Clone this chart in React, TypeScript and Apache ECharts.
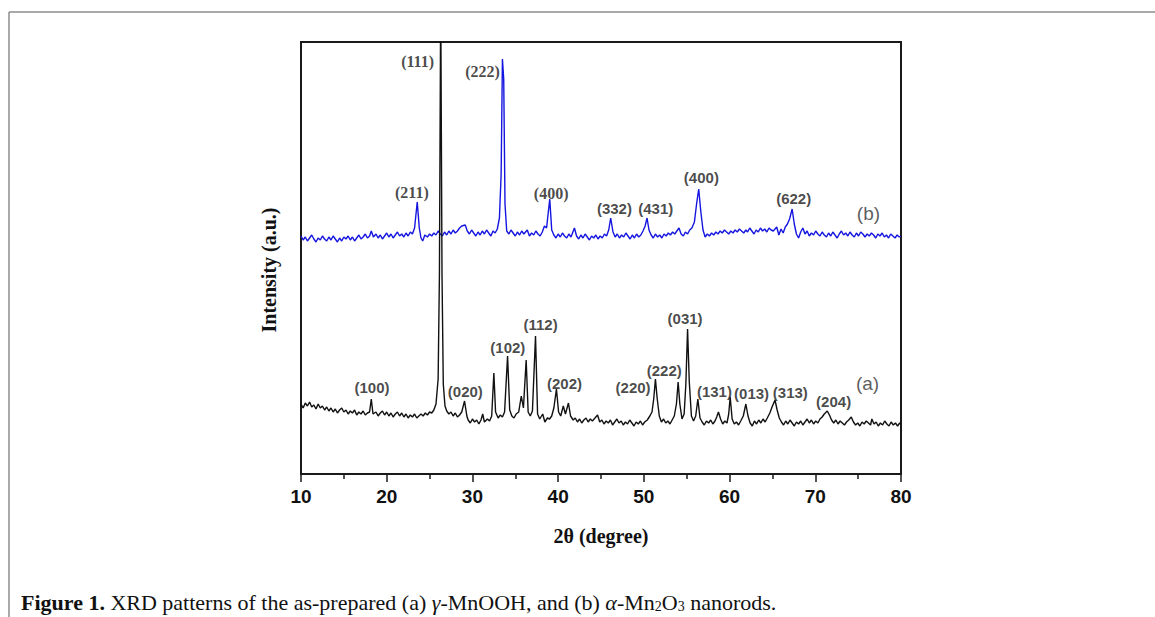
import React, { useEffect, useRef } from "react";
import * as echarts from "echarts";

// 2θ axis
const xMin = 10;
const xMax = 80;
const xStep = 10;
// intensity axis (arbitrary units)
const yMin = 0;
const yMax = 432;

// (a) γ-MnOOH  [2θ, intensity]
const patternA: [number, number][] = [
  [10.0, 70], [10.25, 66], [10.5, 71], [10.75, 68], [11.0, 72], [11.25, 67], [11.5, 69], [11.75, 65],
  [12.0, 70], [12.25, 66], [12.5, 68], [12.75, 64], [13.0, 67], [13.25, 63], [13.5, 66], [13.75, 62],
  [14.0, 65], [14.25, 61], [14.5, 64], [14.75, 66], [15.0, 62], [15.25, 64], [15.5, 60], [15.75, 63],
  [16.0, 61], [16.25, 64], [16.5, 59], [16.75, 62], [17.0, 60], [17.25, 63], [17.5, 59], [17.75, 61],
  [18.0, 62], [18.2, 75], [18.4, 60], [18.75, 62], [19.0, 58], [19.25, 61], [19.5, 63], [19.75, 59],
  [20.0, 62], [20.25, 58], [20.5, 61], [20.75, 57], [21.0, 60], [21.25, 62], [21.5, 58], [21.75, 61],
  [22.0, 57], [22.25, 60], [22.5, 56], [22.75, 59], [23.0, 57], [23.25, 60], [23.5, 56], [23.75, 58],
  [24.0, 60], [24.25, 58], [24.5, 61], [24.75, 59], [25.0, 62], [25.25, 61], [25.5, 64], [25.75, 70],
  [26.0, 95], [26.15, 200], [26.3, 480], [26.45, 200], [26.6, 90], [26.8, 68], [27.0, 63], [27.25, 60],
  [27.5, 62], [27.75, 58], [28.0, 61], [28.25, 57], [28.5, 59], [28.75, 62], [29.08, 73], [29.35, 58],
  [29.5, 54], [29.75, 51], [30.0, 55], [30.25, 52], [30.5, 54], [30.75, 50], [31.0, 54], [31.2, 60],
  [31.4, 52], [31.75, 55], [32.0, 53], [32.25, 58], [32.5, 101], [32.7, 62], [33.0, 56], [33.25, 59],
  [33.5, 57], [33.75, 62], [34.1, 118], [34.35, 64], [34.6, 58], [34.85, 56], [35.1, 60], [35.4, 62],
  [35.7, 78], [35.95, 66], [36.27, 114], [36.5, 62], [36.75, 58], [37.0, 63], [37.36, 138], [37.6, 60],
  [37.85, 55], [38.2, 60], [38.45, 52], [38.75, 56], [39.0, 55], [39.25, 58], [39.5, 66], [39.8, 85],
  [40.05, 62], [40.3, 58], [40.6, 68], [40.85, 60], [41.2, 71], [41.45, 58], [41.75, 54], [42.0, 56],
  [42.25, 52], [42.5, 55], [42.75, 51], [43.0, 54], [43.25, 56], [43.5, 52], [43.75, 55], [44.0, 53],
  [44.3, 56], [44.6, 59], [44.85, 52], [45.1, 54], [45.35, 50], [45.6, 53], [45.85, 51], [46.1, 54],
  [46.35, 49], [46.6, 52], [46.85, 55], [47.1, 51], [47.35, 53], [47.6, 49], [47.85, 52], [48.1, 50],
  [48.35, 54], [48.6, 51], [48.85, 48], [49.1, 52], [49.35, 50], [49.6, 53], [49.85, 49], [50.1, 52],
  [50.4, 54], [50.7, 58], [50.95, 62], [51.15, 75], [51.35, 95], [51.55, 76], [51.8, 58], [52.05, 52],
  [52.3, 55], [52.55, 51], [52.8, 53], [53.05, 50], [53.3, 54], [53.55, 58], [53.8, 70], [54.0, 92],
  [54.2, 70], [54.45, 55], [54.7, 60], [54.9, 90], [55.1, 145], [55.3, 92], [55.55, 58], [55.8, 53],
  [56.05, 58], [56.3, 75], [56.55, 56], [56.8, 52], [57.05, 49], [57.3, 53], [57.55, 51], [57.8, 54],
  [58.05, 50], [58.3, 53], [58.5, 57], [58.7, 62], [58.95, 55], [59.2, 50], [59.45, 53], [59.7, 51],
  [59.9, 60], [60.07, 77], [60.3, 55], [60.55, 50], [60.8, 52], [61.05, 49], [61.3, 53], [61.6, 58],
  [61.9, 70], [62.15, 58], [62.4, 51], [62.65, 48], [62.9, 53], [63.15, 50], [63.4, 54], [63.65, 51],
  [63.9, 55], [64.15, 52], [64.4, 56], [64.7, 61], [65.0, 68], [65.3, 74], [65.55, 64], [65.8, 56],
  [66.05, 52], [66.3, 49], [66.55, 53], [66.8, 50], [67.05, 54], [67.3, 51], [67.55, 48], [67.8, 52],
  [68.05, 50], [68.3, 53], [68.55, 49], [68.8, 52], [69.05, 55], [69.3, 51], [69.55, 54], [69.8, 50],
  [70.05, 53], [70.3, 51], [70.55, 55], [70.8, 57], [71.05, 60], [71.4, 63], [71.65, 59], [71.9, 54],
  [72.15, 51], [72.4, 54], [72.65, 50], [72.9, 53], [73.15, 51], [73.4, 49], [73.65, 52], [73.9, 54],
  [74.2, 57], [74.45, 52], [74.7, 49], [74.95, 51], [75.2, 48], [75.45, 52], [75.7, 50], [75.95, 53],
  [76.2, 51], [76.45, 49], [76.6, 55], [76.85, 50], [77.1, 52], [77.35, 48], [77.6, 51], [77.85, 49],
  [78.1, 53], [78.35, 50], [78.6, 48], [78.85, 52], [79.1, 49], [79.35, 51], [79.6, 48], [79.85, 51],
  [80.0, 50],
];

// (b) α-Mn2O3  [2θ, intensity]
const patternB: [number, number][] = [
  [10.0, 238], [10.25, 234], [10.5, 237], [10.75, 233], [11.0, 236], [11.25, 239], [11.5, 235], [11.75, 232],
  [12.0, 236], [12.25, 234], [12.5, 238], [12.75, 235], [13.0, 233], [13.25, 237], [13.5, 234], [13.75, 238],
  [14.0, 235], [14.25, 232], [14.5, 236], [14.75, 233], [15.0, 237], [15.25, 235], [15.5, 238], [15.75, 234],
  [16.0, 237], [16.25, 233], [16.5, 236], [16.75, 239], [17.0, 235], [17.25, 237], [17.5, 240], [17.75, 236],
  [18.0, 238], [18.2, 243], [18.45, 237], [18.75, 240], [19.0, 236], [19.25, 239], [19.5, 235], [19.75, 238],
  [20.0, 241], [20.25, 237], [20.5, 240], [20.75, 236], [21.0, 239], [21.25, 242], [21.5, 238], [21.75, 240],
  [22.0, 237], [22.25, 241], [22.5, 238], [22.75, 242], [23.0, 240], [23.25, 246], [23.56, 272], [23.8, 246],
  [24.0, 236], [24.2, 233], [24.45, 239], [24.75, 237], [25.0, 240], [25.25, 238], [25.5, 241], [25.75, 239],
  [26.0, 243], [26.25, 240], [26.5, 238], [26.75, 242], [27.0, 239], [27.25, 243], [27.5, 240], [27.75, 244],
  [28.0, 241], [28.25, 243], [28.5, 246], [28.75, 248], [29.16, 249], [29.4, 243], [29.65, 240], [29.9, 244],
  [30.15, 241], [30.4, 238], [30.65, 242], [30.9, 239], [31.15, 243], [31.4, 240], [31.65, 244], [31.9, 241],
  [32.15, 238], [32.4, 243], [32.65, 241], [32.9, 245], [33.15, 256], [33.35, 300], [33.5, 415], [33.65, 395],
  [33.8, 270], [34.0, 243], [34.25, 240], [34.5, 244], [34.75, 241], [35.0, 238], [35.25, 242], [35.5, 239],
  [35.75, 243], [36.0, 240], [36.4, 244], [36.65, 238], [36.9, 241], [37.15, 239], [37.4, 243], [37.65, 240],
  [37.9, 238], [38.15, 242], [38.4, 248], [38.65, 246], [39.02, 275], [39.25, 244], [39.5, 239], [39.75, 236],
  [40.0, 240], [40.25, 237], [40.5, 241], [40.75, 238], [41.0, 236], [41.25, 240], [41.5, 237], [41.9, 246],
  [42.15, 238], [42.4, 235], [42.65, 239], [42.9, 236], [43.15, 240], [43.4, 237], [43.65, 234], [43.9, 238],
  [44.15, 236], [44.4, 239], [44.65, 235], [44.9, 238], [45.15, 236], [45.4, 240], [45.65, 238], [45.9, 244],
  [46.13, 256], [46.4, 242], [46.65, 237], [46.9, 240], [47.15, 236], [47.4, 239], [47.65, 237], [47.9, 241],
  [48.15, 238], [48.4, 235], [48.65, 239], [48.9, 236], [49.15, 240], [49.4, 237], [49.65, 239], [49.9, 243],
  [50.15, 248], [50.37, 256], [50.6, 244], [50.85, 239], [51.1, 236], [51.35, 240], [51.6, 237], [51.85, 239],
  [52.1, 236], [52.35, 240], [52.6, 238], [52.85, 241], [53.1, 239], [53.35, 242], [53.6, 240], [53.85, 243],
  [54.1, 246], [54.35, 240], [54.6, 238], [54.85, 242], [55.1, 240], [55.35, 244], [55.6, 246], [55.9, 252],
  [56.15, 270], [56.4, 285], [56.65, 262], [56.9, 244], [57.15, 237], [57.4, 240], [57.65, 238], [57.9, 241],
  [58.15, 239], [58.4, 242], [58.65, 240], [58.9, 243], [59.15, 241], [59.4, 244], [59.65, 242], [59.9, 240],
  [60.15, 243], [60.4, 241], [60.65, 244], [60.9, 242], [61.15, 245], [61.4, 243], [61.65, 241], [61.9, 244],
  [62.1, 242], [62.35, 246], [62.6, 243], [62.85, 240], [63.1, 244], [63.35, 242], [63.6, 246], [63.85, 243],
  [64.1, 245], [64.35, 242], [64.6, 246], [64.85, 244], [65.1, 243], [65.5, 247], [65.75, 239], [66.0, 245],
  [66.25, 241], [66.5, 247], [66.75, 250], [67.0, 255], [67.3, 265], [67.55, 250], [67.8, 240], [68.05, 236],
  [68.3, 242], [68.55, 246], [68.8, 240], [69.05, 243], [69.3, 238], [69.55, 241], [69.8, 239], [70.05, 243],
  [70.3, 240], [70.55, 238], [70.8, 242], [71.05, 239], [71.3, 237], [71.55, 241], [71.8, 238], [72.05, 242],
  [72.3, 239], [72.55, 236], [72.8, 240], [73.05, 243], [73.3, 239], [73.55, 241], [73.8, 238], [74.05, 242],
  [74.3, 239], [74.55, 237], [74.8, 241], [75.05, 238], [75.3, 242], [75.55, 240], [75.8, 237], [76.05, 240],
  [76.3, 238], [76.55, 241], [76.8, 239], [77.05, 236], [77.3, 240], [77.55, 238], [77.8, 241], [78.05, 237],
  [78.3, 239], [78.55, 236], [78.8, 240], [79.05, 238], [79.3, 236], [79.55, 239], [79.8, 237], [80.0, 238],
];

// peak indices [label, 2θ, intensity]
const labelsA: [string, number, number][] = [
  ["(100)", 18.28, 87], ["(020)", 29.17, 83], ["(102)", 34.13, 127], ["(112)", 37.95, 150],
  ["(202)", 40.74, 91], ["(220)", 48.74, 87], ["(222)", 52.38, 104], ["(031)", 54.81, 156],
  ["(131)", 58.23, 83], ["(013)", 62.57, 81], ["(313)", 67.09, 82], ["(204)", 72.14, 73],
];
const labelsBSerif: [string, number, number][] = [
  ["(111)", 23.6, 413], ["(222)", 31.18, 403], ["(211)", 22.94, 282], ["(400)", 39.19, 281],
];
const labelsBSans: [string, number, number][] = [
  ["(332)", 46.57, 266], ["(431)", 51.39, 266], ["(400)", 56.71, 297], ["(622)", 67.48, 276],
];
const sampleTags: [string, number, number][] = [["(b)", 76.2, 261], ["(a)", 76.1, 91]];

const xTitle = "2θ (degree)";
const yTitle = "Intensity (a.u.)";

function labelSeries(items: [string, number, number][], family: string, size: number, weight: string, color: string) {
  return {
    type: "scatter",
    silent: true,
    symbolSize: 1,
    itemStyle: { color: "rgba(0,0,0,0)" },
    z: 5,
    label: {
      show: true,
      position: "inside",
      formatter: (p: any) => p.name,
      fontFamily: family,
      fontSize: size,
      fontWeight: weight,
      color,
    },
    data: items.map(([name, x, y]) => ({ name, value: [x, y] })),
  };
}

export default function App() {
  const ref = useRef<HTMLDivElement>(null);
  useEffect(() => {
    if (!ref.current) return;
    const chart = echarts.init(ref.current, undefined, { renderer: "svg" });
    const grid = { left: 301, top: 42, width: 600, height: 432 };
    chart.setOption({
      animation: false,
      backgroundColor: "#ffffff",
      grid: { ...grid, show: true, borderColor: "#1a1a1a", borderWidth: 2, backgroundColor: "transparent" },
      xAxis: {
        type: "value",
        min: xMin,
        max: xMax,
        interval: xStep,
        axisLine: { show: true, onZero: false, lineStyle: { color: "#1a1a1a", width: 2 } },
        axisTick: { show: true, inside: false, length: 8, lineStyle: { color: "#1a1a1a", width: 1.5 } },
        minorTick: { show: true, splitNumber: 2, length: 5, lineStyle: { color: "#1a1a1a", width: 1.5 } },
        splitLine: { show: false },
        axisLabel: {
          margin: 13,
          fontFamily: "Liberation Sans",
          fontWeight: "bold",
          fontSize: 19,
          color: "#111",
        },
      },
      yAxis: {
        type: "value",
        min: yMin,
        max: yMax,
        axisLine: { show: true, lineStyle: { color: "#1a1a1a", width: 2 } },
        axisTick: { show: false },
        axisLabel: { show: false },
        splitLine: { show: false },
      },
      series: [
        {
          type: "line",
          data: patternB,
          showSymbol: false,
          silent: true,
          lineStyle: { color: "#1515e0", width: 1.4 },
          z: 2,
        },
        {
          type: "line",
          data: patternA,
          showSymbol: false,
          silent: true,
          lineStyle: { color: "#111111", width: 1.4 },
          z: 3,
        },
        labelSeries(labelsA, "Liberation Sans", 15, "bold", "#1a1a1a"),
        labelSeries(labelsBSerif, "Liberation Serif", 16, "bold", "#1a1a1a"),
        labelSeries(labelsBSans, "Liberation Sans", 15, "bold", "#1a1a1a"),
        labelSeries(sampleTags, "Liberation Sans", 19, "normal", "#333"),
      ],
      graphic: [
        { type: "line", shape: { x1: 9, y1: 12, x2: 1155, y2: 12 }, style: { stroke: "#8c8c8c", lineWidth: 1.5 }, silent: true },
        { type: "line", shape: { x1: 9, y1: 12, x2: 9, y2: 617 }, style: { stroke: "#8c8c8c", lineWidth: 1.5 }, silent: true },
        {
          type: "text",
          x: 601,
          y: 536,
          silent: true,
          style: {
            text: xTitle,
            textAlign: "center",
            textVerticalAlign: "middle",
            fontFamily: "Liberation Serif",
            fontWeight: "bold",
            fontSize: 20,
            fill: "#111",
          },
        },
        {
          type: "text",
          x: 269,
          y: 270,
          rotation: Math.PI / 2,
          silent: true,
          style: {
            text: yTitle,
            textAlign: "center",
            textVerticalAlign: "middle",
            fontFamily: "Liberation Serif",
            fontWeight: "bold",
            fontSize: 20,
            fill: "#111",
          },
        },
        {
          type: "text",
          x: 21,
          y: 600,
          silent: true,
          style: {
            text:
              "{b|Figure 1.}{r| XRD patterns of the as-prepared (a) }{i|γ}{r|-MnOOH, and (b) }{i|α}{r|-Mn}{s|2}{r|O}{s|3}{r| nanorods.}",
            textVerticalAlign: "middle",
            fill: "#111",
            rich: {
              b: { fontFamily: "Liberation Serif", fontWeight: "bold", fontSize: 22, lineHeight: 26, verticalAlign: "bottom" },
              r: { fontFamily: "Liberation Serif", fontSize: 22, lineHeight: 26, verticalAlign: "bottom" },
              i: { fontFamily: "Liberation Serif", fontStyle: "italic", fontSize: 22, lineHeight: 26, verticalAlign: "bottom" },
              s: { fontFamily: "Liberation Serif", fontSize: 14, lineHeight: 13, verticalAlign: "bottom" },
            },
          },
        },
      ],
    });
    return () => chart.dispose();
  }, []);
  return <div ref={ref} style={{ position: "fixed", left: 0, top: 0, width: 1155, height: 617 }} />;
}
